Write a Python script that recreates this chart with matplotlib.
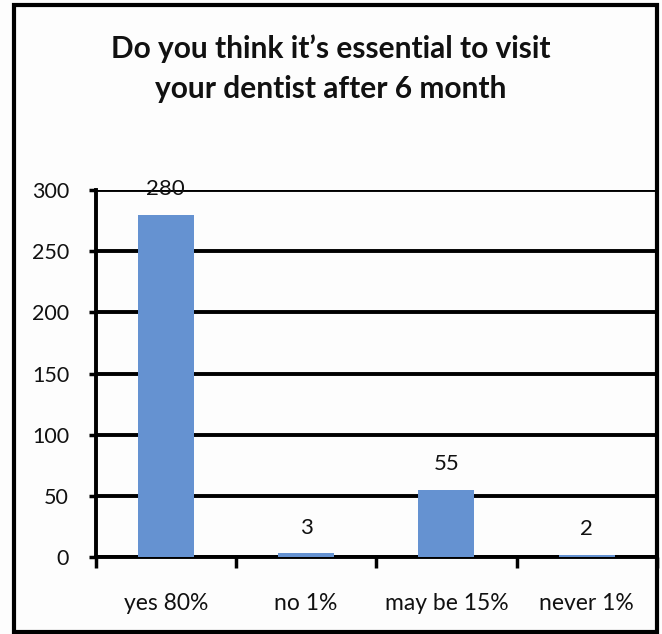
import numpy as np
import matplotlib.pyplot as plt
from matplotlib.patches import Rectangle

categories = ['yes 80%', 'no 1%', 'may be 15%', 'never 1%']
counts = [280, 3, 55, 2]
y_ticks = [0, 50, 100, 150, 200, 250, 300]
title_lines = ['Do you think it\u2019s essential to visit', 'your dentist after 6 month']

plt.rcParams['font.family'] = ['Lato', 'DejaVu Sans']

figure = plt.figure(figsize=(6.62, 6.34), dpi=100)
figure.patch.set_facecolor('#fdfdfd')
axis = figure.add_axes([0.1443, 0.1215, 0.848, 0.5785])
axis.set_facecolor('none')

x = np.arange(len(categories))
bars = axis.bar(x, counts, width=0.4, color='#6592d1', zorder=3)
for bar, value in zip(bars, counts):
    axis.annotate(str(value), (bar.get_x() + bar.get_width() / 2, value),
                  xytext=(0, 11), textcoords='offset points',
                  ha='center', va='bottom', fontsize=16, color='#111111', zorder=4)

axis.set_ylim(0, 300)
axis.set_xlim(-0.5, len(categories) - 0.5)
axis.set_yticks(y_ticks)
axis.tick_params(axis='y', length=5, width=2.5, labelsize=15.5, pad=14, labelcolor='#111111')
axis.yaxis.grid(True, color='black', linewidth=2.8, zorder=1)

axis.set_xticks(x)
axis.set_xticklabels(categories, fontsize=16.5, color='#111111')
axis.tick_params(axis='x', length=0, pad=26)
axis.set_xticks(np.arange(-0.5, len(categories)), minor=True)
axis.tick_params(axis='x', which='minor', length=8, width=2.5)

for side in ['top', 'right']:
    axis.spines[side].set_visible(False)
axis.spines['left'].set_linewidth(2.8)
axis.spines['bottom'].set_linewidth(2.8)

figure.text(0.4992, 1 - 58 / 634, title_lines[0], ha='center', va='baseline',
            fontsize=21.5, fontweight='bold', color='#111111')
figure.text(0.4992, 1 - 98 / 634, title_lines[1], ha='center', va='baseline',
            fontsize=21.5, fontweight='bold', color='#111111')

figure.patches.append(Rectangle((0.0204, 0.003), 0.9713, 0.989, transform=figure.transFigure,
                                fill=False, edgecolor='black', linewidth=3))

plt.savefig('out.png', dpi=100)
